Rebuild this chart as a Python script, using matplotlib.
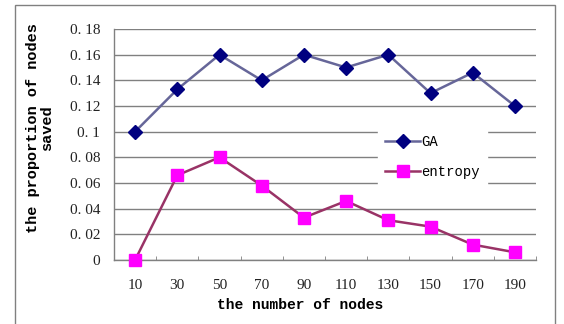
import numpy as np
from matplotlib import pyplot as plt
from matplotlib.patches import Rectangle
from matplotlib.ticker import FixedLocator, FuncFormatter

#---- Data

nodes = ['10', '30', '50', '70', '90', '110', '130', '150', '170', '190']
ga = [0.100, 0.133, 0.160, 0.140, 0.160, 0.150, 0.160, 0.130, 0.146, 0.120]
entropy = [0.000, 0.066, 0.080, 0.058, 0.033, 0.046, 0.031, 0.026, 0.012, 0.006]

mono = ['Liberation Mono', 'DejaVu Sans Mono']
serif = ['Liberation Serif', 'DejaVu Serif']


def ytick_fmt(v, pos):
    if abs(v) < 1e-9:
        return '0'
    s = ('%.2f' % v).rstrip('0')
    return s.replace('.', '. ')


#---- Figure

fig = plt.figure(figsize=(5.64, 3.24), dpi=100)
ax = fig.add_axes([114 / 564, 1 - 260 / 324, 422 / 564, 231 / 324])

x = np.arange(len(nodes))
ax.plot(x, ga, color='#666699', lw=1.8, marker='D', ms=7.5,
        mfc='#000080', mec='#000080', label='GA', zorder=3)
ax.plot(x, entropy, color='#993366', lw=1.8, marker='s', ms=8,
        mfc='#ff00ff', mec='#ff00ff', label='entropy', zorder=3, clip_on=False)

ax.set_xlim(-0.5, len(nodes) - 0.5)
ax.set_ylim(0, 0.18)
ax.set_yticks(np.arange(0, 0.181, 0.02))
ax.yaxis.set_major_formatter(FuncFormatter(ytick_fmt))
ax.set_xticks(x)
ax.set_xticklabels(nodes)
ax.xaxis.set_minor_locator(FixedLocator(np.arange(-0.5, len(nodes), 0.5)))

ax.grid(axis='y', color='#808080', lw=1)
ax.set_axisbelow(True)
for s in ['top', 'right']:
    ax.spines[s].set_visible(False)
for s in ['left', 'bottom']:
    ax.spines[s].set_color('#808080')
    ax.spines[s].set_linewidth(1)

ax.tick_params(axis='x', which='major', length=0, pad=14)
ax.tick_params(axis='x', which='minor', direction='in', length=3, color='#808080')
ax.tick_params(axis='y', length=0, pad=10)
for lab in ax.get_xticklabels() + ax.get_yticklabels():
    lab.set_family(serif)
    lab.set_fontsize(11)
    lab.set_color('#222222')

ax.set_xlabel('the number of nodes', family=mono, fontweight='bold',
              fontsize=10.5, va='center')
ax.xaxis.set_label_coords(0.44, -0.195)
ax.set_ylabel('the proportion of nodes\nsaved', family=mono, fontweight='bold',
              fontsize=11, linespacing=1.0, va='center')
ax.yaxis.set_label_coords(-0.176, 0.571)

leg = ax.legend(loc='upper left', bbox_to_anchor=(0.61, 0.60), frameon=True,
                framealpha=1, edgecolor='white', fancybox=False,
                prop={'family': mono, 'size': 10}, handlelength=2.5,
                handletextpad=0.1, borderpad=0.5, labelspacing=1.1)

# outer chart frame
fig.patches.append(Rectangle((15 / 564, -0.1), 540 / 564, (319 / 324) + 0.1,
                             transform=fig.transFigure, fill=False,
                             edgecolor='#808080', lw=1))

fig.savefig('out.png', dpi=100)
